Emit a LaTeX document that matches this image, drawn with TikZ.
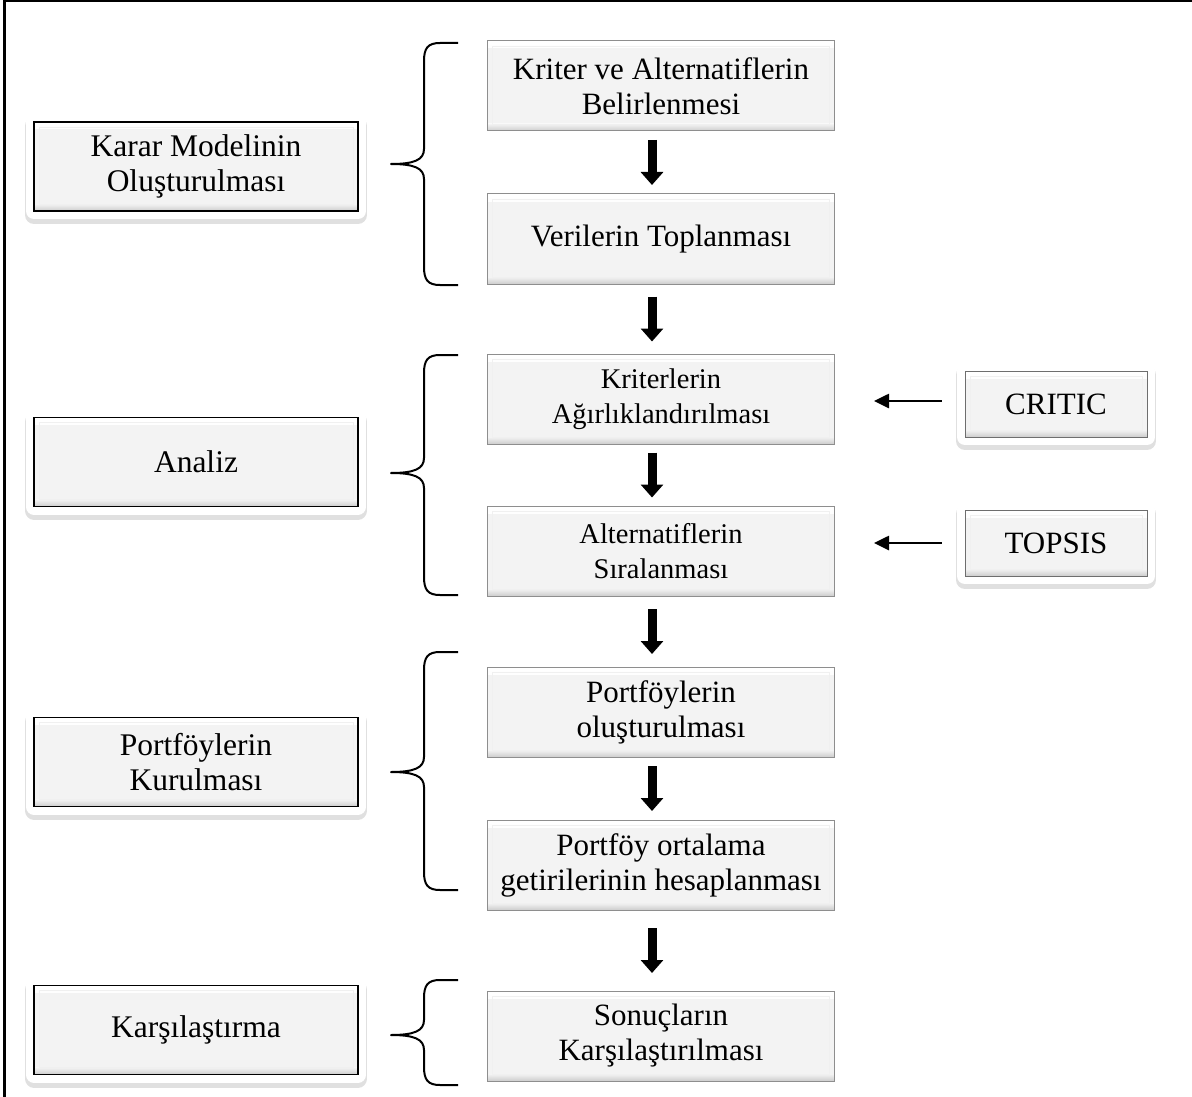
\documentclass[tikz,border=0pt]{standalone}
\usepackage{fontspec}
\setmainfont{Liberation Serif}
\usetikzlibrary{positioning,arrows.meta,calc}
\definecolor{boxfill}{HTML}{F3F3F3}
\definecolor{boxedge}{HTML}{8E8E8E}
\definecolor{methodedge}{HTML}{6E6E6E}

\begin{document}
\begin{tikzpicture}[x=1pt, y=-1pt,
        every node/.style={align=center, inner sep=2pt},
        bevel/.style={fill=boxfill, path picture={
            \shade[top color=white, bottom color=boxfill]
              (path picture bounding box.north west) rectangle ([yshift=-7pt]path picture bounding box.north east);
            \shade[top color=boxfill, bottom color=black!20]
              ([yshift=7pt]path picture bounding box.south west) rectangle (path picture bounding box.south east);
            \draw[black!6, line width=0.8pt]
              ([shift={(5pt,-5pt)}]path picture bounding box.north west) rectangle ([shift={(-5pt,7pt)}]path picture bounding box.south east);}},
        glow/.style={preaction={draw=black!30, line width=18pt, line join=round, opacity=.4, transform canvas={yshift=-4pt}},
                     preaction={draw=white, line width=16pt, line join=round}},
        stepbox/.style={bevel, draw=boxedge, line width=1pt, minimum width=347pt, minimum height=90pt, font=\fontsize{31}{35}\selectfont},
        narrow/.style={font=\fontsize{28.5}{35}\selectfont},
        phase/.style={glow, bevel, draw=black, line width=1.4pt, minimum width=324pt, minimum height=89pt, font=\fontsize{31.5}{35}\selectfont},
        method/.style={glow, bevel, draw=methodedge, line width=1pt, minimum width=182pt, minimum height=66pt, font=\fontsize{31}{35}\selectfont},
        bigarr/.style={line width=9pt, -{Triangle[width=22pt, length=13pt]}},
        feedarr/.style={line width=2.6pt, -{Triangle[width=14pt, length=15pt]}},
        grpbrace/.style={line width=2pt, line join=round}
      ]
        \useasboundingbox (0,0) rectangle (1192,1097);
        \draw[line width=2.5pt] (4.5,1097) -- (4.5,1.25) -- (1192,1.25);

        \node[stepbox] (krit) at (661,86) {Kriter ve Alternatiflerin\\Belirlenmesi};
        \node[stepbox, below=62pt of krit] (veri) {Verilerin Toplanması};
        \node[stepbox, narrow, below=69pt of veri] (agir) {Kriterlerin\\Ağırlıklandırılması};
        \node[stepbox, narrow, below=61pt of agir] (sira) {Alternatiflerin\\Sıralanması};
        \node[stepbox, below=70pt of sira] (olus) {Portföylerin\\oluşturulması};
        \node[stepbox, below=62pt of olus] (getir) {Portföy ortalama\\getirilerinin hesaplanması};
        \node[stepbox, below=80pt of getir] (sonuc) {Sonuçların\\Karşılaştırılması};

        \node[phase] (model) at (196,166.5) {Karar Modelinin\\Oluşturulması};
        \node[phase] (analiz) at (196,462) {Analiz};
        \node[phase] (kurulum) at (196,762) {Portföylerin\\Kurulması};
        \node[phase] (karsi) at (196,1030) {Karşılaştırma};

        \node[method] (critic) at (1056,404) {CRITIC};
        \node[method] (topsis) at (1056,543) {TOPSIS};

        \foreach \a/\b in {krit/veri, veri/agir, agir/sira, sira/olus, olus/getir, getir/sonuc}
          \draw[bigarr] ($(\a.south)!.5!(\b.north)+(-9,-22.5)$) -- ($(\a.south)!.5!(\b.north)+(-9,22.5)$);
        \draw[feedarr, shorten <=23pt, shorten >=39pt] ([yshift=3pt]critic.west) -- ([yshift=3pt]critic.west -| agir.east);
        \draw[feedarr, shorten <=23pt, shorten >=39pt] (topsis.west) -- (topsis.west -| sira.east);

        \foreach \t/\m/\b in {43/164/285, 355/473/595, 652/772/890, 980/1035/1085}
          \draw[grpbrace] (458,\t) -- (440,\t) .. controls (428,\t) and (424,\t+5) .. (424,\t+18)
            -- (424,\m-15) .. controls (424,\m-4) and (414,\m) .. (391,\m)
            .. controls (414,\m) and (424,\m+4) .. (424,\m+15)
            -- (424,\b-18) .. controls (424,\b-5) and (428,\b) .. (440,\b) -- (458,\b);
      \end{tikzpicture}
\end{document}
